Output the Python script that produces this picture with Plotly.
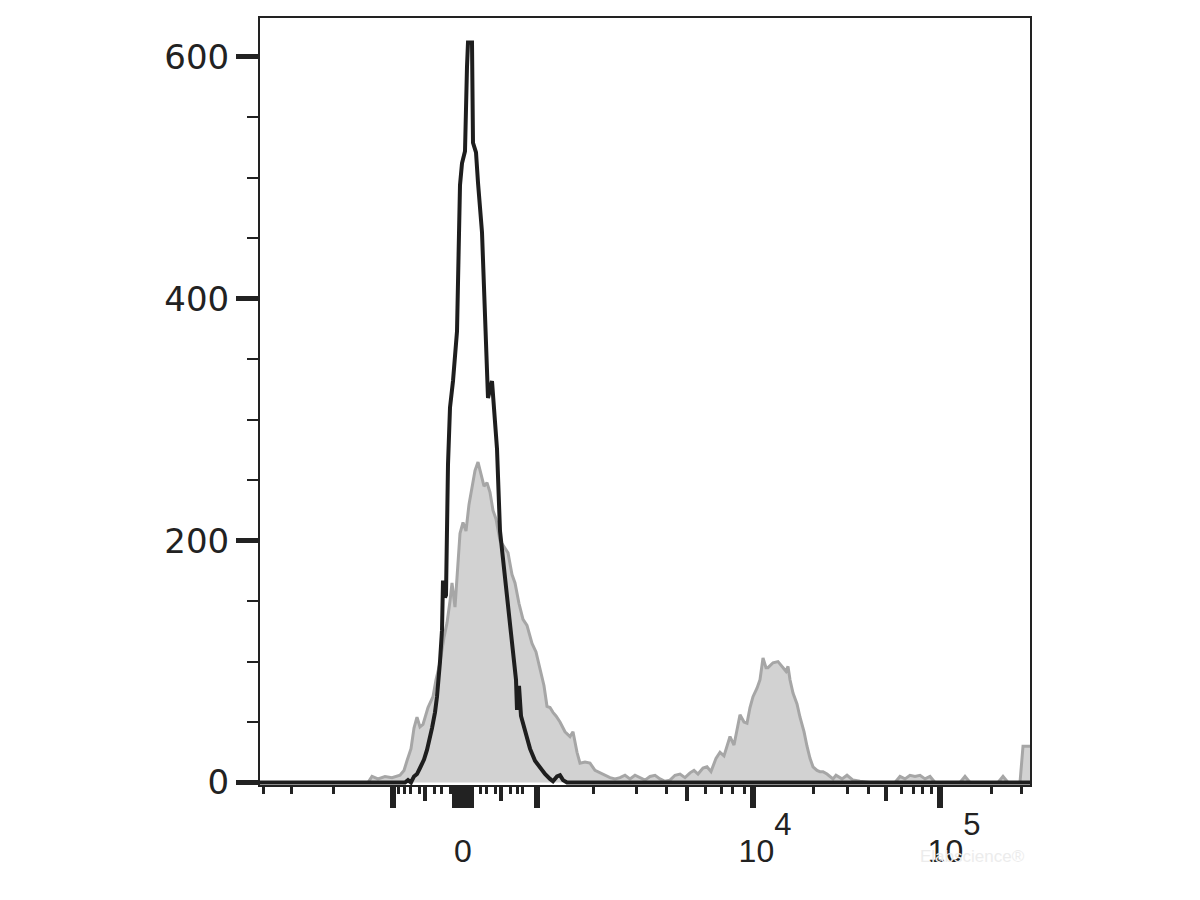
import plotly.graph_objects as go

# ---- data (x in display-channel units of the biexponential axis, 0..770) ----
gray_x = [0, 108, 112, 118, 125, 132, 140, 144, 147, 151, 154, 157, 160, 163, 168, 173, 176, 180,
          184, 187, 190, 192, 195, 198, 200, 203, 206, 209, 212, 215, 218, 221, 224, 227, 230, 233,
          236, 240, 244, 248, 252, 255, 259, 263, 267, 272, 276, 280, 284, 287, 290, 293, 296, 300,
          305, 310, 313, 317, 320, 325, 330, 335, 340, 345, 350, 355, 360, 365, 370, 375, 380, 385,
          390, 395, 400, 405, 410, 415, 420, 425, 430, 434, 438, 443, 447, 451, 456, 460, 464, 467,
          470, 474, 477, 480, 484, 487, 490, 493, 497, 500, 503, 506, 508, 513, 518, 523, 526, 528,
          530, 533, 537, 540, 544, 547, 550, 553, 557, 560, 563, 567, 570, 573, 576, 582, 587, 593,
          600, 610, 635, 640, 645, 650, 655, 660, 665, 670, 675, 700, 705, 710, 738, 743, 748, 760,
          763, 770]
gray_counts = [0, 0, 5, 3, 5, 4, 6, 10, 18, 28, 45, 54, 46, 48, 62, 71, 85, 99,
               120, 132, 150, 165, 145, 180, 206, 215, 208, 230, 245, 258, 265, 255, 245, 248, 240, 225,
               218, 200, 195, 190, 172, 165, 148, 135, 130, 115, 108, 95, 80, 63, 62, 58, 55, 50,
               42, 38, 42, 25, 16, 17, 16, 10, 8, 6, 4, 3, 4, 6, 3, 6, 4, 2,
               5, 6, 3, 1, 2, 6, 7, 4, 8, 10, 7, 12, 13, 9, 20, 25, 22, 30,
               38, 31, 45, 56, 50, 49, 62, 71, 78, 85, 103, 95, 95, 99, 100, 95, 92, 96,
               85, 74, 65, 54, 42, 30, 20, 13, 10, 9, 9, 7, 5, 3, 6, 3, 6, 2,
               1, 0, 0, 5, 3, 6, 5, 6, 3, 5, 0, 0, 5, 0, 0, 5, 0, 0,
               30, 30]

black_x = [0, 145, 148, 151, 154, 157, 160, 164, 167, 170, 172, 175, 177, 180, 182, 183, 184, 185,
           186, 188, 190, 193, 197, 199, 200, 202, 205, 207, 208, 212, 212.5, 213, 216, 217, 218, 222,
           225, 228, 232, 237, 240, 247, 253, 256, 257, 259, 261, 263, 267, 270, 275, 280, 285, 290,
           293, 297, 300, 303, 307, 770]
black_counts = [0, 0, 2, 0, 5, 7, 12, 19, 27, 36, 45, 58, 71, 100, 126, 167, 160, 153,
                155, 263, 310, 332, 373, 470, 494, 512, 522, 592, 612, 612, 556, 529, 521, 505, 496, 455,
                373, 318, 332, 276, 208, 153, 104, 85, 60, 80, 55, 49, 36, 28, 18, 12, 7, 3,
                1, 5, 6, 2, 0, 0]

# axis ticks
y_major = [0, 200, 400, 600]
y_minor = [50, 100, 150, 250, 300, 350, 450, 500, 550]
x_label_pos = [203, 505, 694]
x_label_text = ["0",
                "10<sup><span style='font-size:31px;baseline-shift:14px'>4</span></sup>",
                "10<sup><span style='font-size:31px;baseline-shift:14px'>5</span></sup>"]
x_long_ticks = [133, 195, 199, 203, 207, 211, 277, 493, 680]
x_mid_ticks = [165, 241, 427, 626]
x_short_ticks = [3, 31, 73, 138, 144, 150, 159, 174, 181, 190, 220, 226, 235, 250, 257, 262,
                 333, 376, 406, 445, 461, 472, 484, 553, 587, 608, 641, 653, 662, 671, 731, 761]

X_RANGE = [0, 770]
Y_RANGE = [-2.06, 632.2]
INK = "#222222"
FONT = "Liberation Sans, Arial, sans-serif"
YFONT = "DejaVu Sans, Liberation Sans, sans-serif"

fig = go.Figure()
fig.add_trace(go.Scatter(x=gray_x, y=gray_counts, mode="lines",
                         line=dict(color="#a6a6a6", width=3),
                         fill="tozeroy", fillcolor="#d2d2d2", hoverinfo="skip"))
fig.add_trace(go.Scatter(x=black_x, y=black_counts, mode="lines",
                         line=dict(color="#1e1e1e", width=4), hoverinfo="skip"))
fig.add_trace(go.Scatter(x=[None], y=[None], xaxis="x2", yaxis="y", mode="lines",
                         hoverinfo="skip", showlegend=False))

fig.update_layout(
    width=1192, height=892,
    margin=dict(l=252, r=170, t=8, b=115),
    paper_bgcolor="white", plot_bgcolor="white",
    showlegend=False,
    xaxis=dict(range=X_RANGE, showgrid=False, zeroline=False,
               showline=True, linecolor=INK, linewidth=2, mirror=True,
               tickmode="array", tickvals=x_label_pos, ticktext=x_label_text,
               ticks="outside", ticklen=37, tickwidth=1, tickcolor="rgba(0,0,0,0)",
               tickfont=dict(family=FONT, size=32, color=INK),
               minor=dict(tickmode="array", tickvals=x_long_ticks, ticks="outside",
                          ticklen=21, tickwidth=6, tickcolor=INK, showgrid=False)),
    xaxis2=dict(range=X_RANGE, overlaying="x", anchor="y", side="bottom",
                showgrid=False, zeroline=False, showline=False, showticklabels=False,
                tickmode="array", tickvals=x_mid_ticks, ticks="outside",
                ticklen=15, tickwidth=4, tickcolor=INK,
                minor=dict(tickmode="array", tickvals=x_short_ticks, ticks="outside",
                           ticklen=8, tickwidth=3, tickcolor=INK, showgrid=False)),
    yaxis=dict(range=Y_RANGE, showgrid=False, zeroline=False,
               showline=True, linecolor=INK, linewidth=2, mirror=True,
               tickmode="array", tickvals=y_major, ticktext=[str(v) for v in y_major],
               ticks="outside", ticklen=22, tickwidth=4.5, tickcolor=INK,
               tickfont=dict(family=YFONT, size=34, color=INK),
               minor=dict(tickmode="array", tickvals=y_minor, ticks="outside",
                          ticklen=11, tickwidth=2, tickcolor=INK, showgrid=False)),
    annotations=[dict(text="Elabscience®", xref="paper", yref="paper", x=0.925, y=-0.108,
                      xanchor="center", showarrow=False,
                      font=dict(family=FONT, size=17, color="#ececec"))],
)

fig.write_html("out.html")
